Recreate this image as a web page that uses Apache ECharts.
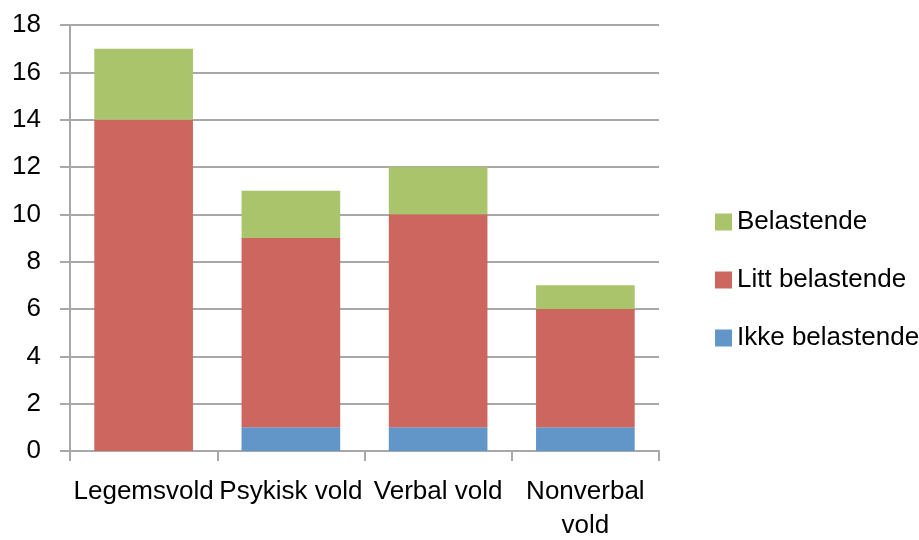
<!DOCTYPE html>
<html>
<head>
<meta charset="utf-8">
<script src="https://cdn.jsdelivr.net/npm/echarts@6/dist/echarts.min.js"></script>
<style>
  html, body { margin: 0; padding: 0; background: #fff; }
  #chart { width: 919px; height: 540px; }
</style>
</head>
<body>
<div id="chart"></div>
<script>
// Kategorier og verdier (antall)
const categories = ['Legemsvold', 'Psykisk vold', 'Verbal vold', 'Nonverbal\nvold'];
const ikkeBelastende = [0, 1, 1, 1];
const littBelastende = [14, 8, 9, 5];
const belastende = [3, 2, 2, 1];

const FONT = '"Liberation Sans", Arial, sans-serif';
const gridColor = '#A8A8A8';

const chart = echarts.init(document.getElementById('chart'), null, { renderer: 'canvas' });

function barSeries(name, data, color) {
  return {
    name: name,
    type: 'bar',
    stack: 'total',
    data: data,
    barCategoryGap: '33%',
    itemStyle: { color: color },
    emphasis: { disabled: true }
  };
}

chart.setOption({
  animation: false,
  grid: { left: 70, right: 260, top: 25, bottom: 89, containLabel: false, outerBoundsMode: 'none' },
  legend: {
    orient: 'vertical',
    left: 710,
    top: 204,
    itemWidth: 17,
    itemHeight: 17,
    itemGap: 32,
    icon: 'rect',
    data: ['Belastende', 'Litt belastende', 'Ikke belastende'],
    textStyle: { fontFamily: FONT, fontSize: 26, color: '#000', lineHeight: 26, padding: [0, 0, 0, 0] }
  },
  xAxis: {
    type: 'category',
    data: categories,
    axisLine: { lineStyle: { color: gridColor, width: 2 } },
    axisTick: { show: true, length: 10, lineStyle: { color: gridColor, width: 2 } },
    axisLabel: {
      fontFamily: FONT, fontSize: 26, color: '#000',
      margin: 24, lineHeight: 34, interval: 0
    }
  },
  yAxis: {
    type: 'value',
    min: 0,
    max: 18,
    interval: 2,
    axisLine: { show: true, lineStyle: { color: gridColor, width: 2 } },
    axisTick: { show: true, length: 10, lineStyle: { color: gridColor, width: 2 } },
    splitLine: { show: true, lineStyle: { color: gridColor, width: 2 } },
    axisLabel: { fontFamily: FONT, fontSize: 26, color: '#000', margin: 29 }
  },
  series: [
    barSeries('Ikke belastende', ikkeBelastende, '#6296C9'),
    barSeries('Litt belastende', littBelastende, '#CD665F'),
    barSeries('Belastende', belastende, '#AAC46C')
  ]
});
</script>
</body>
</html>
